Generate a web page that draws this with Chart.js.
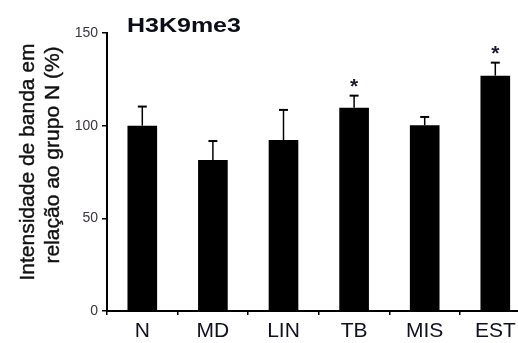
<!DOCTYPE html>
<html>
<head>
<meta charset="utf-8">
<script src="https://cdn.jsdelivr.net/npm/chart.js@4.4.1/dist/chart.umd.min.js"></script>
<style>
    html, body { margin: 0; padding: 0; background: #fff; overflow: hidden; width: 518px; height: 343px; }
    canvas { position: absolute; left: 0; top: 0; }
</style>
</head>
<body>
<canvas id="chart" width="540" height="343"></canvas>
<script>
// data
const groups = ['N', 'MD', 'LIN', 'TB', 'MIS', 'EST'];
const means = [100, 81.5, 92.3, 109.7, 100.2, 127];
const errors = [10.3, 10.2, 16.2, 6.5, 4.5, 7];
const marks = ['', '', '', '*', '', '*'];
const yTicks = [0, 50, 100, 150];
const chartTitle = 'H3K9me3';
const yTitle = ['Intensidade de banda em', 'relação ao grupo N (%)'];

const FONT = '"Liberation Sans", Arial, sans-serif';

// error bars (upper half only) + significance stars
const errorBarPlugin = {
    id: 'errorBars',
    afterDatasetsDraw(chart) {
        const ctx = chart.ctx;
        const y = chart.scales.y;
        const bars = chart.getDatasetMeta(0).data;
        ctx.save();
        ctx.strokeStyle = '#000';
        bars.forEach((bar, i) => {
            const top = y.getPixelForValue(means[i] + errors[i]);
            ctx.lineWidth = 1.5;
            ctx.beginPath();
            ctx.moveTo(bar.x, bar.y);
            ctx.lineTo(bar.x, top);
            ctx.stroke();
            ctx.lineWidth = 2;
            ctx.beginPath();
            ctx.moveTo(bar.x - 4.5, top);
            ctx.lineTo(bar.x + 4.5, top);
            ctx.stroke();
            if (marks[i]) {
                ctx.fillStyle = '#1a1a30';
                ctx.font = 'bold 21px ' + FONT;
                ctx.textAlign = 'center';
                ctx.textBaseline = 'alphabetic';
                ctx.fillText(marks[i], bar.x, top - 3);
            }
        });
        ctx.restore();
    }
};

// title and two-line rotated y title
const labelsPlugin = {
    id: 'labels',
    afterDraw(chart) {
        const ctx = chart.ctx;
        ctx.save();
        ctx.fillStyle = '#0d0d1a';
        ctx.font = 'bold 21px ' + FONT;
        ctx.textAlign = 'left';
        ctx.textBaseline = 'alphabetic';
        ctx.translate(127, 32);
        ctx.scale(1.19, 1);
        ctx.fillText(chartTitle, 0, 0);
        ctx.restore();

        ctx.save();
        ctx.fillStyle = '#111';
        ctx.strokeStyle = '#111';
        ctx.lineWidth = 0.4;
        ctx.font = '21px ' + FONT;
        ctx.textAlign = 'center';
        ctx.textBaseline = 'middle';
        const centers = [[28, 162], [53, 155]];
        yTitle.forEach((line, i) => {
            ctx.save();
            ctx.translate(centers[i][0], centers[i][1]);
            ctx.rotate(-Math.PI / 2);
            ctx.fillText(line, 0, 0);
            ctx.strokeText(line, 0, 0);
            ctx.restore();
        });
        ctx.restore();
    }
};

const ctx = document.getElementById('chart').getContext('2d');
new Chart(ctx, {
    type: 'bar',
    data: {
        labels: groups,
        datasets: [{
            data: means,
            backgroundColor: '#000',
            borderWidth: 0,
            categoryPercentage: 1,
            barPercentage: 0.42
        }]
    },
    options: {
        responsive: false,
        animation: false,
        devicePixelRatio: 1,
        layout: { padding: { top: 33, right: 9.4, bottom: 0, left: 0 } },
        plugins: {
            legend: { display: false },
            tooltip: { enabled: false }
        },
        scales: {
            x: {
                afterFit(scale) { scale.height = 32; },
                grid: {
                    offset: true,
                    drawOnChartArea: false,
                    color: '#000',
                    tickLength: 4,
                    lineWidth: 1.5
                },
                border: { color: '#000', width: 2 },
                ticks: {
                    color: '#10101e',
                    padding: 4,
                    font: { family: FONT, size: 21 }
                }
            },
            y: {
                min: 0,
                max: 150,
                afterFit(scale) { scale.width = 107; },
                afterBuildTicks(scale) { scale.ticks = yTicks.map(v => ({ value: v })); },
                grid: {
                    drawOnChartArea: false,
                    color: '#000',
                    tickLength: 5,
                    lineWidth: 1.5
                },
                border: { color: '#000', width: 2 },
                ticks: {
                    color: '#3a3340',
                    padding: 4,
                    font: { family: FONT, size: 14 }
                }
            }
        }
    },
    plugins: [errorBarPlugin, labelsPlugin]
});
</script>
</body>
</html>
